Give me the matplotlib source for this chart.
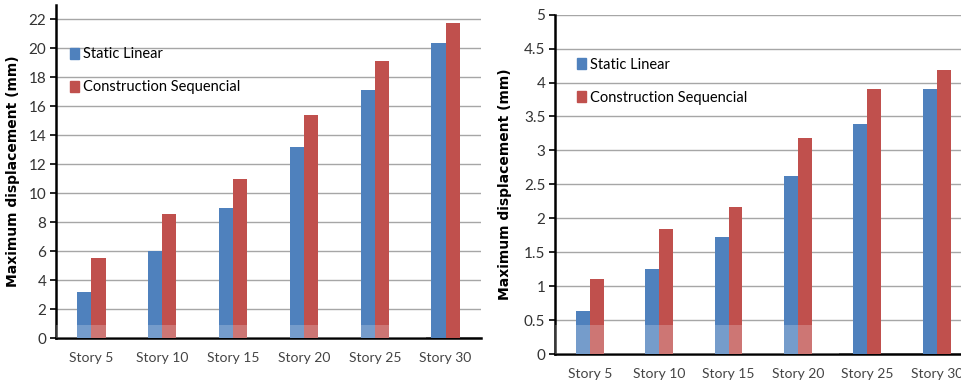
import numpy as np
import matplotlib.pyplot as plt
from matplotlib.patches import Patch

plt.rcParams['font.family'] = ['Lato', 'DejaVu Sans']

stories = ["Story 5", "Story 10", "Story 15", "Story 20", "Story 25", "Story 30"]

# left chart (mm)
static_left = [3.2, 6.0, 8.95, 13.2, 17.1, 20.35]
seq_left = [5.55, 8.55, 11.0, 15.4, 19.1, 21.75]

# right chart (mm)
static_right = [0.63, 1.25, 1.73, 2.63, 3.39, 3.90]
seq_right = [1.10, 1.84, 2.17, 3.18, 3.90, 4.19]

BLUE = "#4F81BD"
RED = "#C0504D"


def bar_panel(ax, s, c, yticks, ylim, ticklabels, xmax):
    x = np.arange(len(stories))
    w = 0.2
    ax.bar(x - w / 2, s, w, color=BLUE, zorder=3)
    ax.bar(x + w / 2, c, w, color=RED, zorder=3)
    ax.set_xlim(-0.5, xmax)
    ax.set_ylim(*ylim)
    ax.set_yticks(yticks)
    ax.set_yticklabels(ticklabels, fontsize=11, color="#333333")
    ax.set_xticks(x)
    ax.set_xticklabels(stories, fontsize=10, color="#444444")
    ax.tick_params(axis="x", length=0, pad=10)
    ax.tick_params(axis="y", length=4, width=1.2, pad=3)
    ax.grid(axis="y", color="#a6a6a6", linewidth=1, zorder=0)
    for sp in ["top", "right"]:
        ax.spines[sp].set_visible(False)
    ax.spines["left"].set_linewidth(1.8)
    ax.spines["bottom"].set_linewidth(1.8)
    ax.set_ylabel("Maximum displacement (mm)", fontsize=10, fontweight="bold",
                  family="DejaVu Sans")
    handles = [Patch(color=BLUE, label="Static Linear"),
               Patch(color=RED, label="Construction Sequencial")]
    ax.legend(handles=handles, loc="upper left", bbox_to_anchor=(0.02, 0.89),
              frameon=False, fontsize=10.5, handlelength=0.6, handleheight=0.8,
              handletextpad=0.3, labelspacing=1.3, borderaxespad=0)


fig = plt.figure(figsize=(9.61, 3.86), dpi=100)
ax1 = fig.add_axes([56 / 961, 48 / 386, (481 - 56) / 961, 333 / 386])
ax2 = fig.add_axes([555 / 961, 32 / 386, (961 - 555) / 961, 339.3 / 386])

bar_panel(ax1, static_left, seq_left, np.arange(0, 23, 2), (0, 23),
          [str(v) for v in range(0, 23, 2)], 5.5)
bar_panel(ax2, static_right, seq_right, np.arange(0, 5.01, 0.5), (0, 5),
          ["0", "0.5", "1", "1.5", "2", "2.5", "3", "3.5", "4", "4.5", "5"], 5.35)

ax1.yaxis.set_label_coords(-0.085, 0.5)
ax2.yaxis.set_label_coords(-0.105, 0.5)
ax2.legend_.set_bbox_to_anchor((0.04, 0.89))

# faded band near the base (scan artefact in the source figure)
ax1.axhspan(0, 0.9, xmin=0.0, xmax=0.87, color="white", alpha=0.22, zorder=4, lw=0)
ax2.axhspan(0, 0.43, xmin=0.0, xmax=0.7, color="white", alpha=0.22, zorder=4, lw=0)

fig.savefig("out.png", dpi=100)
